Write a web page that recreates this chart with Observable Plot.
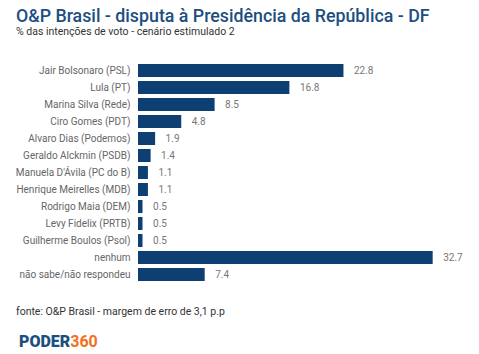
<!DOCTYPE html>
<html>
<head>
<meta charset="utf-8">
<script src="https://cdn.jsdelivr.net/npm/d3@7"></script>
<script src="https://cdn.jsdelivr.net/npm/@observablehq/plot@0.6"></script>
<style>
  body { margin: 0; background: #fff; font-family: Roboto, "Noto Sans", sans-serif; }
  #wrap { position: relative; width: 479px; height: 354px; overflow: hidden; }
  #title { position: absolute; left: 16px; top: 5px; font-size: 17.8px; font-weight: 500; color: #1d4e7f; white-space: nowrap; }
  #sub { position: absolute; left: 16px; top: 25px; font-size: 10.5px; color: #333; white-space: nowrap; }
  #chart { position: absolute; left: 0; top: 40px; }
  #src { position: absolute; left: 16px; top: 305px; font-size: 10.5px; color: #333; white-space: nowrap; }
  #logo { position: absolute; left: 19px; top: 332px; font-size: 16px; font-weight: 900; letter-spacing: 0px; white-space: nowrap; }
  #logo .a { color: #1b4f80; }
  #logo .b { color: #f26f21; font-weight: 700; }
</style>
</head>
<body>
<div id="wrap">
  <div id="title">O&amp;P Brasil - disputa à Presidência da República - DF</div>
  <div id="sub">% das intenções de voto - cenário estimulado 2</div>
  <div id="chart"></div>
  <div id="src">fonte: O&amp;P Brasil - margem de erro de 3,1 p.p</div>
  <div id="logo"><span class="a">PODER</span><span class="b">360</span></div>
</div>
<script>
const categories = [
  "Jair Bolsonaro (PSL)",
  "Lula (PT)",
  "Marina Silva (Rede)",
  "Ciro Gomes (PDT)",
  "Alvaro Dias (Podemos)",
  "Geraldo Alckmin (PSDB)",
  "Manuela D'Ávila (PC do B)",
  "Henrique Meirelles (MDB)",
  "Rodrigo Maia (DEM)",
  "Levy Fidelix (PRTB)",
  "Guilherme Boulos (Psol)",
  "nenhum",
  "não sabe/não respondeu"
];
const values = [22.8, 16.8, 8.5, 4.8, 1.9, 1.4, 1.1, 1.1, 0.5, 0.5, 0.5, 32.7, 7.4];
const data = categories.map((c, i) => ({ name: c, value: values[i] }));

const chart = Plot.plot({
  width: 479,
  height: 260,
  marginLeft: 138,
  marginRight: 25.6,
  marginTop: 14.4,
  marginBottom: 8.4,
  style: { fontFamily: "Roboto, 'Noto Sans', sans-serif", fontSize: "10px", background: "transparent" },
  x: { domain: [0, 35], axis: null },
  y: { domain: categories, padding: 0.23, label: null, axis: null },
  marks: [
    Plot.axisY({ tickSize: 0, tickPadding: 8, fill: "#666", fontSize: 10, label: null }),
    Plot.barX(data, { y: "name", x: "value", fill: "#0d3f73" }),
    Plot.text(data, { y: "name", x: "value", text: d => d.value.toFixed(1), textAnchor: "start", dx: 10, fill: "#777", fontSize: 10 })
  ]
});
document.getElementById("chart").appendChild(chart);
</script>
</body>
</html>
